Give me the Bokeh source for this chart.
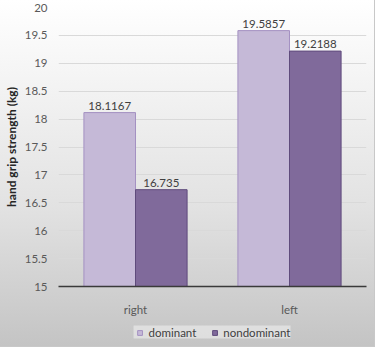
from bokeh.plotting import figure
from bokeh.layouts import column
from bokeh.models import FactorRange, Legend, LegendItem, ColumnDataSource, Range1d
from bokeh.transform import dodge
from bokeh.core.properties import value
from bokeh.embed import file_html
from bokeh.resources import INLINE

categories = ["right", "left"]
dominant = [18.1167, 19.5857]
nondominant = [16.735, 19.2188]
dominant_labels = ["18.1167", "19.5857"]
nondominant_labels = ["16.735", "19.2188"]
y_ticks = [15, 15.5, 16, 16.5, 17, 17.5, 18, 18.5, 19, 19.5, 20]

FONT = "Lato"
DOM_FILL, DOM_LINE = "#c5b9d7", "#a491c2"
ND_FILL, ND_LINE = "#806a9b", "#5f4b7c"
src = ColumnDataSource(dict(cat=categories, dom=dominant, nondom=nondominant,
                            dl=dominant_labels, nl=nondominant_labels))

p = figure(x_range=FactorRange(*categories), y_range=Range1d(15, 20),
           width=374, height=318, output_backend="svg", toolbar_location=None,
           min_border_left=56, min_border_right=8, min_border_top=7, min_border_bottom=29)
p.border_fill_alpha = 0
p.background_fill_alpha = 0
p.outline_line_color = None

BW = 0.335
p.vbar(x=dodge("cat", -BW / 2, range=p.x_range), top="dom", bottom=15, width=BW, source=src,
       fill_color=DOM_FILL, line_color=DOM_LINE, line_width=1)
p.vbar(x=dodge("cat", BW / 2, range=p.x_range), top="nondom", bottom=15, width=BW, source=src,
       fill_color=ND_FILL, line_color=ND_LINE, line_width=1)

p.text(x=dodge("cat", -BW / 2, range=p.x_range), y="dom", text="dl", source=src,
       text_align="center", text_baseline="bottom", y_offset=-3,
       text_font=value(FONT), text_font_size="11.5px", text_color="#404040")
p.text(x=dodge("cat", BW / 2, range=p.x_range), y="nondom", text="nl", source=src,
       text_align="center", text_baseline="bottom", y_offset=-3,
       text_font=value(FONT), text_font_size="11.5px", text_color="#404040")

p.yaxis.ticker = y_ticks
p.yaxis.axis_line_color = None
p.yaxis.major_tick_line_color = None
p.yaxis.minor_tick_line_color = None
p.yaxis.major_label_text_font = FONT
p.yaxis.major_label_text_font_size = "11.5px"
p.yaxis.major_label_text_color = "#595959"
p.yaxis.major_label_standoff = 5
p.yaxis.axis_label = "hand grip strength (kg)"
p.yaxis.axis_label_text_font = FONT
p.yaxis.axis_label_text_font_size = "12px"
p.yaxis.axis_label_text_font_style = "bold"
p.yaxis.axis_label_text_color = "#262626"
p.yaxis.axis_label_standoff = 3

p.xaxis.axis_line_color = "#3a3a3a"
p.xaxis.axis_line_width = 1.5
p.xaxis.major_tick_line_color = None
p.xaxis.minor_tick_line_color = None
p.xaxis.major_label_text_font = FONT
p.xaxis.major_label_text_font_size = "11.5px"
p.xaxis.major_label_text_color = "#595959"
p.xaxis.major_label_standoff = 10

p.xgrid.grid_line_color = None
p.ygrid.grid_line_color = "#d9d9d9"

# legend strip: same series as square proxies (out of view), legend only
q = figure(x_range=FactorRange(*categories), y_range=Range1d(0, 1),
           width=374, height=28, output_backend="svg", toolbar_location=None,
           x_axis_type=None, y_axis_type=None, min_border=0)
q.border_fill_alpha = 0
q.background_fill_alpha = 0
q.outline_line_color = None
q.grid.grid_line_color = None
l1 = q.scatter(x="cat", y="dom", source=src, marker="square", size=12,
               fill_color=DOM_FILL, line_color=DOM_LINE, line_width=1)
l2 = q.scatter(x="cat", y="nondom", source=src, marker="square", size=12,
               fill_color=ND_FILL, line_color=ND_LINE, line_width=1)
legend = Legend(items=[LegendItem(label="dominant", renderers=[l1]),
                       LegendItem(label="nondominant", renderers=[l2])],
                orientation="horizontal", location="center",
                label_text_font=FONT, label_text_font_size="11.5px", label_text_color="#404040",
                glyph_width=12, glyph_height=12, spacing=12, label_standoff=3,
                background_fill_color="#eeeeee", background_fill_alpha=0.6,
                border_line_color=None, margin=0, padding=9)
q.add_layout(legend)

layout = column(p, q, spacing=0)
layout.styles = {"background": "linear-gradient(to bottom, #ffffff 0%, #e2e2e2 60%, #c4c4c4 100%)",
                 "outline": "1px solid #c8c8c8"}

open("out.html", "w").write(file_html(layout, INLINE))
